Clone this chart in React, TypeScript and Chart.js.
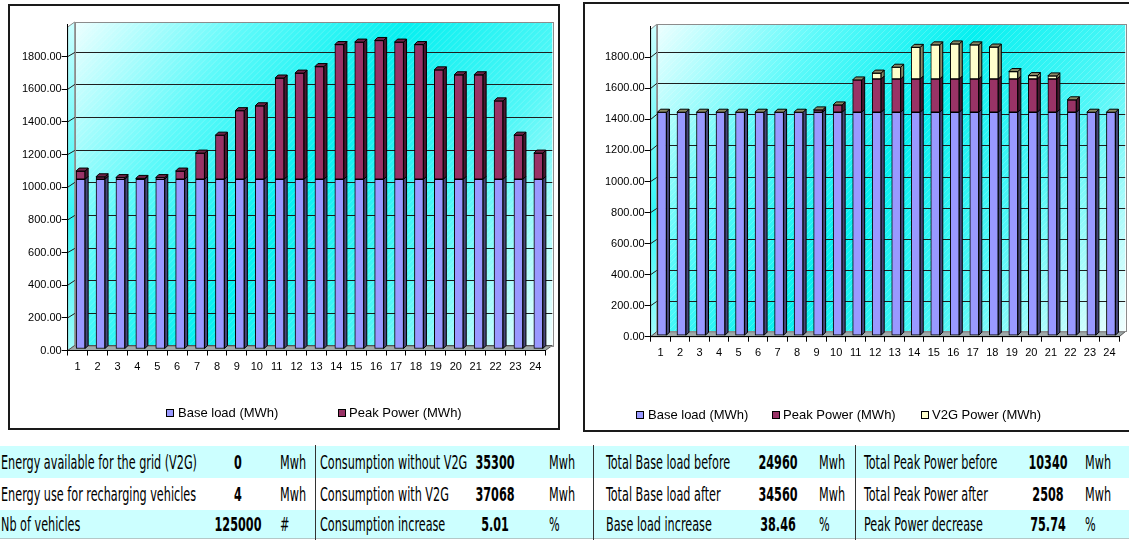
import React, { useEffect, useMemo, useRef } from 'react';
import { Chart, registerables } from 'chart.js';
Chart.register(...registerables);

// ---------- data ----------
const hours = ['1', '2', '3', '4', '5', '6', '7', '8', '9', '10', '11', '12', '13', '14', '15', '16', '17', '18', '19', '20', '21', '22', '23', '24'];
const baseBefore = [1040, 1040, 1040, 1040, 1040, 1040, 1040, 1040, 1040, 1040, 1040, 1040, 1040, 1040, 1040, 1040, 1040, 1040, 1040, 1040, 1040, 1040, 1040, 1040];
const peakBefore = [50, 15, 10, 5, 10, 50, 160, 270, 420, 450, 620, 650, 690, 825, 840, 850, 840, 825, 670, 640, 640, 480, 270, 160];
const baseAfter = [1440, 1440, 1440, 1440, 1440, 1440, 1440, 1440, 1440, 1440, 1440, 1440, 1440, 1440, 1440, 1440, 1440, 1440, 1440, 1440, 1440, 1440, 1440, 1440];
const peakAfter = [0, 0, 0, 0, 0, 0, 0, 0, 15, 47, 208, 214, 214, 214, 214, 214, 214, 214, 214, 214, 214, 80, 0, 0];
const v2gAfter = [0, 0, 0, 0, 0, 0, 0, 0, 0, 0, 0, 38, 76, 204, 220, 226, 220, 206, 48, 22, 20, 0, 0, 0];
const seriesNames = ['Base load (MWh)', 'Peak Power (MWh)', 'V2G Power (MWh)'];

const gridLabels = ['Energy available for the grid (V2G)', 'Energy use for recharging vehicles', 'Nb of vehicles'];
const gridValues = ['0', '4', '125000'];
const gridUnits = ['Mwh', 'Mwh', '#'];
const consLabels = ['Consumption without V2G', 'Consumption with V2G', 'Consumption increase'];
const consValues = ['35300', '37068', '5.01'];
const consUnits = ['Mwh', 'Mwh', '%'];
const baseLabels = ['Total Base load before', 'Total Base load after', 'Base load increase'];
const baseValues = ['24960', '34560', '38.46'];
const baseUnits = ['Mwh', 'Mwh', '%'];
const peakLabels = ['Total Peak Power before', 'Total Peak Power after', 'Peak Power decrease'];
const peakValues = ['10340', '2508', '75.74'];
const peakUnits = ['Mwh', 'Mwh', '%'];

// ---------- styles ----------
const FONT = '"Liberation Sans", Arial, sans-serif';
const TFONT = '"Liberation Sans Narrow", "DejaVu Sans Condensed", "Liberation Sans", sans-serif';
const TSIZE = 20;
const COL_BASE = '#9999ff';
const COL_PEAK = '#993366';
const COL_V2G = '#ffffcc';

type P3 = {
  dx: number; dy: number; bdx: number; bdy: number; shiftX: number; shiftY: number;
  sideColors: string[]; topColor: string; wallInset: number;
};

function make3D(p: P3) {
  return {
    id: 'excel3d',
    beforeDraw(chart: any) {
      const { ctx, chartArea: a, scales } = chart;
      const y = scales.y;
      const L = a.left, R = a.right, T = a.top + p.wallInset, B = a.bottom;
      const bx0 = L + p.dx, by0 = T + p.dy, bx1 = R + p.dx, by1 = B + p.dy;
      ctx.save();
      const g = ctx.createLinearGradient(bx0, by0, bx1, by1);
      g.addColorStop(0, '#eeffff');
      g.addColorStop(0.25, '#5efafa');
      g.addColorStop(0.48, '#06f0f0');
      g.addColorStop(0.72, '#50f7f7');
      g.addColorStop(1, '#f2ffff');
      ctx.fillStyle = g;
      ctx.fillRect(bx0, by0, bx1 - bx0, by1 - by0);
      // hatching
      ctx.save();
      ctx.beginPath();
      ctx.rect(bx0, by0, bx1 - bx0, by1 - by0);
      ctx.clip();
      ctx.strokeStyle = 'rgba(255,255,255,0.2)';
      ctx.lineWidth = 1;
      ctx.beginPath();
      const h = by1 - by0;
      for (let s = bx0 - h; s < bx1; s += 6) {
        ctx.moveTo(s, by1);
        ctx.lineTo(s + h, by0);
      }
      ctx.stroke();
      ctx.restore();
      // side wall
      const g2 = ctx.createLinearGradient(L, T, L, B);
      g2.addColorStop(0, '#c8ffff');
      g2.addColorStop(0.6, '#30f6f6');
      g2.addColorStop(1, '#9ffcfc');
      ctx.beginPath();
      ctx.moveTo(L, T); ctx.lineTo(bx0, by0); ctx.lineTo(bx0, by1); ctx.lineTo(L, B); ctx.closePath();
      ctx.fillStyle = g2; ctx.fill();
      ctx.strokeStyle = '#8c8c8c'; ctx.lineWidth = 1; ctx.stroke();
      // floor
      ctx.beginPath();
      ctx.moveTo(L, B); ctx.lineTo(R, B); ctx.lineTo(bx1, by1); ctx.lineTo(bx0, by1); ctx.closePath();
      ctx.fillStyle = '#9fa9a9'; ctx.fill();
      ctx.strokeStyle = '#555'; ctx.stroke();
      // gridlines
      ctx.beginPath();
      ctx.strokeStyle = '#1e1e1e';
      ctx.lineWidth = 1;
      y.ticks.forEach((t: any) => {
        if (t.value <= 0 || t.value >= y.max) return;
        const yy = y.getPixelForValue(t.value);
        const yb = Math.round(yy + p.dy) + 0.5;
        ctx.moveTo(L, yy);
        ctx.lineTo(bx0, yb);
        ctx.lineTo(bx1, yb);
      });
      ctx.stroke();
      // wall border
      ctx.strokeStyle = '#8c8c8c';
      ctx.strokeRect(Math.round(bx0) + 0.5, Math.round(by0) + 0.5, Math.round(bx1 - bx0), Math.round(by1 - by0));
      ctx.restore();
    },
    beforeDatasetsDraw(chart: any) {
      chart.ctx.save();
      chart.ctx.translate(p.shiftX, p.shiftY);
    },
    afterDatasetsDraw(chart: any) {
      const ctx = chart.ctx;
      const n = chart.data.labels.length;
      const metas = chart.data.datasets.map((_: any, i: number) => chart.getDatasetMeta(i));
      ctx.lineWidth = 1;
      ctx.strokeStyle = '#000';
      for (let i = 0; i < n; i++) {
        let topY = Infinity, x = 0, w = 0;
        metas.forEach((m: any, d: number) => {
          const el = m.data[i];
          if (!el) return;
          const pr = el.getProps(['x', 'y', 'base', 'width'], true);
          x = pr.x; w = pr.width;
          const r = pr.x + pr.width / 2;
          const t = Math.min(pr.y, pr.base), b = Math.max(pr.y, pr.base);
          if (b - t > 0.5) {
            ctx.beginPath();
            ctx.moveTo(r, t); ctx.lineTo(r + p.bdx, t + p.bdy); ctx.lineTo(r + p.bdx, b + p.bdy); ctx.lineTo(r, b);
            ctx.closePath();
            ctx.fillStyle = p.sideColors[d];
            ctx.fill(); ctx.stroke();
          }
          topY = Math.min(topY, t);
        });
        const l = x - w / 2, r = x + w / 2;
        ctx.beginPath();
        ctx.moveTo(l, topY); ctx.lineTo(l + p.bdx, topY + p.bdy); ctx.lineTo(r + p.bdx, topY + p.bdy); ctx.lineTo(r, topY);
        ctx.closePath();
        ctx.fillStyle = p.topColor;
        ctx.fill(); ctx.stroke();
      }
      ctx.restore();
    },
  };
}

type Geo = { left: number; right: number; top: number; bottom: number; width: number; height: number; labelPad: number };

function makeConfig(datasets: any[], geo: Geo, p3: P3): any {
  return {
    type: 'bar',
    data: { labels: hours, datasets },
    options: {
      animation: false,
      responsive: false,
      maintainAspectRatio: false,
      layout: { padding: { left: 0, top: geo.top, right: geo.width - geo.right, bottom: 0 } },
      plugins: { legend: { display: false }, tooltip: { enabled: false } },
      scales: {
        x: {
          stacked: true,
          offset: true,
          grid: { display: true, drawOnChartArea: false, drawTicks: true, tickLength: 5, color: '#000', offset: true },
          border: { display: true, color: '#000', width: 1 },
          ticks: { font: { family: FONT, size: 11 }, color: '#000', padding: geo.labelPad, maxRotation: 0, autoSkip: false },
          afterFit: (s: any) => { s.height = geo.height - geo.bottom; },
        },
        y: {
          stacked: true,
          min: 0,
          max: 2000,
          grid: {
            display: true, drawOnChartArea: false, drawTicks: true, tickLength: 6,
            color: (c: any) => (c.tick && c.tick.value >= 2000 ? 'rgba(0,0,0,0)' : '#000'),
          },
          border: { display: true, color: '#000', width: 1 },
          ticks: {
            stepSize: 200, padding: 0, font: { family: FONT, size: 11 }, color: '#000',
            callback: (v: any) => (v >= 2000 ? '' : Number(v).toFixed(2)),
          },
          afterFit: (s: any) => { s.width = geo.left; },
        },
      },
    },
    plugins: [make3D(p3)],
  };
}

function ds(label: string, data: number[], color: string) {
  return {
    label, data, backgroundColor: color, borderColor: '#000', borderWidth: 1,
    borderSkipped: false, barThickness: 9, clip: false,
  };
}

function ChartCanvas(props: { left: number; top: number; width: number; height: number; build: () => any }) {
  const ref = useRef<HTMLCanvasElement | null>(null);
  useEffect(() => {
    if (!ref.current) return;
    const ch = new Chart(ref.current, props.build());
    return () => ch.destroy();
  }, []);
  return (
    <canvas
      ref={ref}
      width={props.width}
      height={props.height}
      style={{ position: 'absolute', left: props.left, top: props.top, width: props.width, height: props.height }}
    />
  );
}

function LegendItem(props: { x: number; tx: number; y: number; color: string; text: string }) {
  return (
    <>
      <div style={{ position: 'absolute', left: props.x, top: props.y - 4, width: 8, height: 8, background: props.color, border: '1px solid #000', boxSizing: 'border-box' }} />
      <div style={{ position: 'absolute', left: props.tx, top: props.y - 8, height: 16, lineHeight: '16px', fontFamily: FONT, fontSize: 13, color: '#000', whiteSpace: 'nowrap' }}>{props.text}</div>
    </>
  );
}

function TText(props: { x: number; y: number; text: string; s: number; bold?: boolean; center?: boolean }) {
  const tr = props.center
    ? `translate(-50%, -50%) scaleX(${props.s})`
    : `translateY(-50%) scaleX(${props.s})`;
  return (
    <div
      style={{
        position: 'absolute', left: props.x, top: props.y, fontFamily: TFONT, fontSize: TSIZE,
        fontWeight: props.bold ? 'bold' : 'normal', color: '#000', whiteSpace: 'nowrap', lineHeight: '22px',
        transform: tr, transformOrigin: props.center ? 'center center' : 'left center',
      }}
    >
      {props.text}
    </div>
  );
}

export default function App() {
  const s = useMemo(() => {
    const c = document.createElement('canvas').getContext('2d');
    if (!c) return 0.65;
    c.font = `${TSIZE}px ${TFONT}`;
    const w = c.measureText(gridLabels[0]).width;
    return w > 0 ? 196 / w : 0.65;
  }, []);

  const rowsY = [462, 494, 524];
  const groups = [
    { lx: 1, vx: 238, ux: 280, labels: gridLabels, values: gridValues, units: gridUnits },
    { lx: 320, vx: 495, ux: 549, labels: consLabels, values: consValues, units: consUnits },
    { lx: 606, vx: 778, ux: 819, labels: baseLabels, values: baseValues, units: baseUnits },
    { lx: 864, vx: 1048, ux: 1085, labels: peakLabels, values: peakValues, units: peakUnits },
  ];

  const buildLeft = () =>
    makeConfig(
      [ds(seriesNames[0], baseBefore, COL_BASE), ds(seriesNames[1], peakBefore, COL_PEAK)],
      { left: 67.7, right: 545.3, top: 24, bottom: 350.5, width: 560, height: 430, labelPad: 4.6 },
      { dx: 7, dy: -5, bdx: 3, bdy: -3, shiftX: 3, shiftY: -1.5, sideColors: ['#47477a', '#4a1830'], topColor: '#6e2447', wallInset: 3 }
    );
  const buildRight = () =>
    makeConfig(
      [ds(seriesNames[0], baseAfter, COL_BASE), ds(seriesNames[1], peakAfter, COL_PEAK), ds(seriesNames[2], v2gAfter, COL_V2G)],
      { left: 70.7, right: 539.2, top: 26.3, bottom: 336.7, width: 549, height: 435, labelPad: 5 },
      { dx: 6, dy: -5, bdx: 3, bdy: -3, shiftX: 1.5, shiftY: -1, sideColors: ['#47477a', '#4a1830', '#8a8a66'], topColor: '#8c8a66', wallInset: 3 }
    );

  return (
    <div style={{ position: 'fixed', left: 0, top: 0, width: 1129, height: 540, overflow: 'hidden', background: '#fff' }}>
      {/* chart boxes */}
      <div style={{ position: 'absolute', left: 8, top: 4, width: 552, height: 426, border: '2px solid #1a1a1a', boxSizing: 'border-box', background: '#fff' }} />
      <div style={{ position: 'absolute', left: 583, top: 2, width: 600, height: 430, border: '2px solid #1a1a1a', boxSizing: 'border-box', background: '#fff' }} />
      <ChartCanvas left={0} top={0} width={560} height={430} build={buildLeft} />
      <ChartCanvas left={580} top={0} width={549} height={435} build={buildRight} />

      <LegendItem x={166} tx={178} y={413} color={COL_BASE} text={seriesNames[0]} />
      <LegendItem x={338} tx={349} y={413} color={COL_PEAK} text={seriesNames[1]} />
      <LegendItem x={636} tx={648} y={415} color={COL_BASE} text={seriesNames[0]} />
      <LegendItem x={772} tx={783} y={415} color={COL_PEAK} text={seriesNames[1]} />
      <LegendItem x={921} tx={932} y={415} color={COL_V2G} text={seriesNames[2]} />

      {/* table */}
      <div style={{ position: 'absolute', left: 0, top: 446, width: 1129, height: 32, background: '#ccffff' }} />
      <div style={{ position: 'absolute', left: 0, top: 510, width: 1129, height: 28, background: '#ccffff' }} />
      <div style={{ position: 'absolute', left: 0, top: 538, width: 1129, height: 1, background: '#b4c8c8' }} />
      {[315, 593, 855].map((x) => (
        <div key={x} style={{ position: 'absolute', left: x, top: 445, width: 1, height: 95, background: '#333' }} />
      ))}
      {groups.map((g, gi) =>
        rowsY.map((y, ri) => (
          <React.Fragment key={`${gi}-${ri}`}>
            <TText x={g.lx} y={y} text={g.labels[ri]} s={s} />
            <TText x={g.vx} y={y} text={g.values[ri]} s={s} bold center />
            <TText x={g.ux} y={y} text={g.units[ri]} s={s} />
          </React.Fragment>
        ))
      )}
    </div>
  );
}
